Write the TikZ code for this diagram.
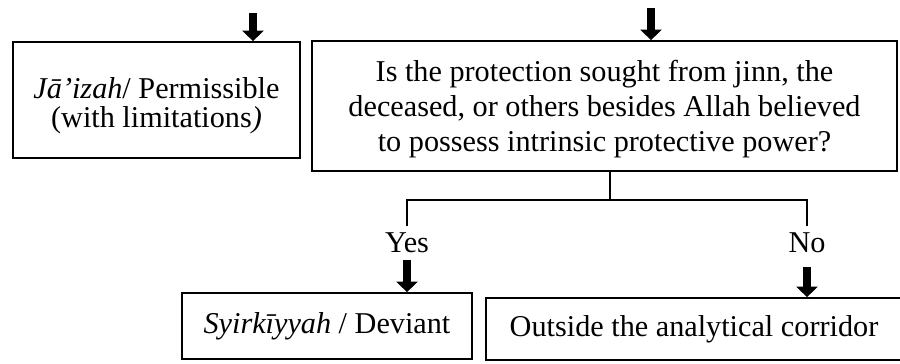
\documentclass[tikz,border=0pt]{standalone}
\usepackage{fontspec}
\setmainfont{Liberation Serif}
\usetikzlibrary{arrows.meta,calc}
\tikzset{
    box/.style =    {rectangle,
                    fill=white,
                    draw=black,
                    text=black,
                    line width=1.2pt,
                    align=center,
                    inner sep=0pt,
                    font=\fontsize{21.5}{24.9}\selectfont},
    answer/.style = {text=black,
                    inner sep=4pt,
                    font=\fontsize{21.5}{24.9}\selectfont},
    fork/.style =   {draw=black,
                    line width=1.2pt},
    blockarrow/.style = {line width=6.3pt,
                    -{Triangle[width=15pt,length=7.5pt]}}
}

\begin{document}
\begin{tikzpicture}[x=0.025cm,y=-0.025cm]
                \useasboundingbox (0,0) rectangle (900,363);

                \node[box,minimum width=7.175cm,minimum height=2.9cm,font=\fontsize{21.5}{20.6}\selectfont]
                                    (jaiz)    at (156.5,100)   {\rule{0pt}{23.3pt}\textit{Jā’izah}/ Permissible\\(with limitations\textit{)}};
                \node[box,minimum width=14.625cm,minimum height=3.25cm]
                                    (quest)   at (604.5,106)   {\rule{0pt}{19pt}Is the protection sought from jinn, the\\deceased, or others besides Allah believed\\to possess intrinsic protective power?};
                \node[box,minimum width=7.25cm,minimum height=1.65cm]
                                    (syirk)   at (327,326)     {\textit{Syirkīyyah} / Deviant};
                \node[box,minimum width=10.4cm,minimum height=1.55cm]
                                    (outside) at (694,329)     {Outside the analytical corridor};
                \node[answer,anchor=base] (yes) at (407,252)   {Yes};
                \node[answer,anchor=base] (no)  at (807,252)   {No};

                \coordinate (Jin) at (253,13);
                \coordinate (Qin) at (651,8);
                \coordinate (Yin) at (407,260);
                \coordinate (Nin) at (807,267);
                \coordinate (F)   at (610,200);

                \draw [fork] (F |- quest.south) -- (F);
                \draw [fork] (yes.north) |- (F) -| (no.north);

                \path [blockarrow]  (Jin) edge (Jin |- jaiz.north)
                                    (Qin) edge (Qin |- quest.north)
                                    (Yin) edge (Yin |- syirk.north)
                                    (Nin) edge (Nin |- outside.north);
        \end{tikzpicture}
\end{document}
